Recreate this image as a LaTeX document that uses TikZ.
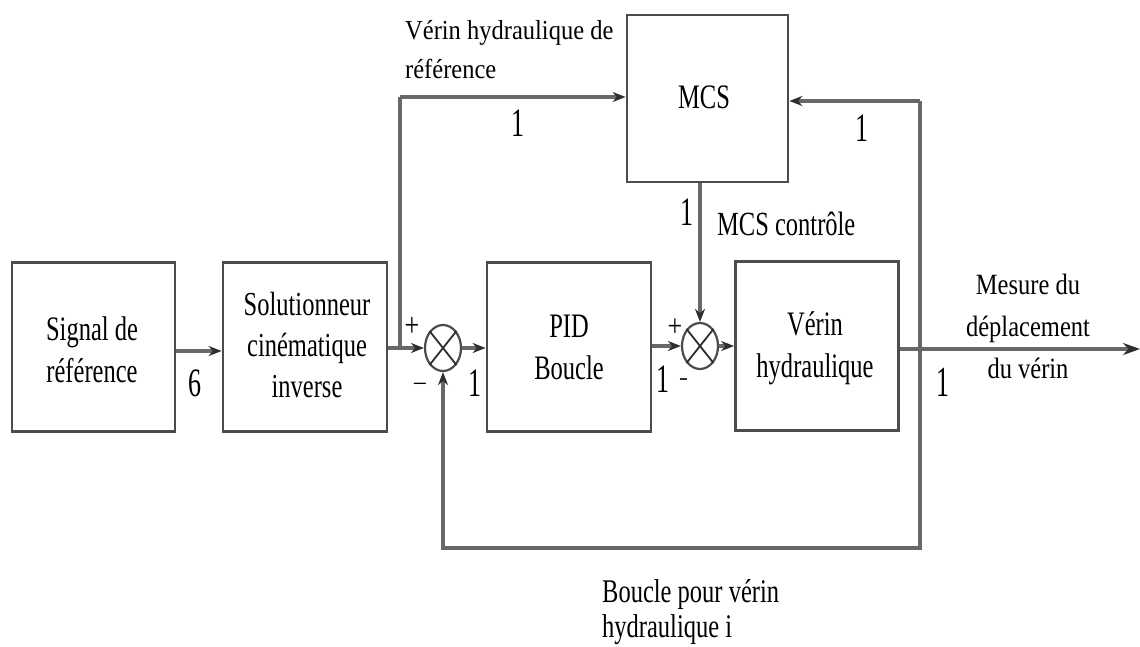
\documentclass[tikz,border=0pt]{standalone}
\usepackage{fontspec}
\setmainfont{Liberation Serif}
\usetikzlibrary{arrows.meta,shapes.geometric}
\newcommand\sx[3]{\scalebox{1}[#1]{\begin{tabular}[t]{@{}#2@{}}#3\end{tabular}}}
\definecolor{ln}{HTML}{686868}
\definecolor{bx}{HTML}{4C4C4C}
\definecolor{tp}{HTML}{2E2E2E}
\begin{document}
\begin{tikzpicture}[x=1pt,y=-1pt,
  blk/.style={draw=bx,line width=2.8pt,inner sep=0pt},
  txt/.style={font=\fontsize{24.5}{30}\selectfont,inner sep=0pt,anchor=base},
  lbl/.style={font=\fontsize{24.5}{35}\selectfont,inner sep=0pt,anchor=base},
  num/.style={font=\fontsize{26}{30}\selectfont,inner sep=0pt},
  sgn/.style={font=\fontsize{26}{30}\selectfont,inner sep=0pt},
  arr/.style={draw=ln,line width=3.3pt,-{Stealth[length=13pt,width=10pt,color=tp]}},
  ln/.style={draw=ln,line width=3.3pt},
  sum/.style={ellipse,draw=bx,line width=2.2pt,minimum width=36pt,minimum height=46pt,inner sep=0pt}]
\useasboundingbox (0,0) rectangle (1140,646);
% boxes
\node[blk,minimum width=163pt,minimum height=169pt] (sig) at (93.5,347) {};
\node[blk,minimum width=164pt,minimum height=169pt] (sol) at (305,347) {};
\node[blk,minimum width=164pt,minimum height=169pt] (pid) at (569,347) {};
\node[blk,minimum width=163pt,minimum height=169pt] (ver) at (817,346) {};
\node[blk,minimum width=161pt,minimum height=167pt] (mcs) at (707.5,98.5) {};
% box texts
\node[txt] (tsig) at (92,340) {\sx{1.4}{c}{Signal de\\référence}};
\node[txt] (tsol) at (307,315) {\sx{1.37}{c}{Solutionneur\\cinématique\\inverse}};
\node[txt] (tpid) at (569,337) {\sx{1.4}{c}{PID\\Boucle}};
\node[txt] (tver) at (815,335) {\sx{1.4}{c}{Vérin\\hydraulique}};
\node[txt] (tmcs) at (704,108) {\sx{1.4}{c}{MCS}};
% junctions
\node[sum] (s1) at (443,348) {};
\node[sum] (s2) at (700,346) {};
\draw[draw=tp,line width=1.8pt] (s1.north west) -- (s1.south east) (s1.north east) -- (s1.south west);
\draw[draw=tp,line width=1.8pt] (s2.north west) -- (s2.south east) (s2.north east) -- (s2.south west);
% coordinates
\coordinate (br1) at (400,348);
\coordinate (t1) at (400,97);
\coordinate (br2) at (920,349);
\coordinate (t2) at (920,101);
\coordinate (fb) at (920,548);
\coordinate (out) at (1140,349);
% connectors
\draw[arr] (sig.east |- 0,351) -- (sol.west |- 0,351);
\draw[arr] (sol.east |- br1) -- (s1.west);
\draw[ln] (br1) -- (t1);
\draw[arr] (t1) -- (t1 -| mcs.west);
\draw[arr] (s1.east) -- (pid.west |- s1);
\draw[arr] (pid.east |- s2) -- (s2.west);
\draw[arr] (s2.east) -- (ver.west |- s2);
\draw[arr] (s2 |- mcs.south) -- (s2.north);
\draw[draw=ln,line width=3.3pt,-{Stealth[length=17pt,width=12pt,color=tp]}] (ver.east |- br2) -- (out);
\draw[ln] (br2) -- (t2);
\draw[arr] (t2) -- (t2 -| mcs.east);
\draw[arr] (br2) -- (fb) -| (s1.south);
% labels
\node[lbl,anchor=base west] (lref) at (405,39) {\sx{1.12}{l}{Vérin hydraulique de\\référence}};
\node[lbl,anchor=base west] (lctl) at (717,235) {\sx{1.38}{l}{MCS contrôle}};
\node[lbl] (lmes) at (1028,294) {\sx{1.2}{c}{Mesure du\\déplacement\\du vérin}};
\node[lbl,anchor=base west,font=\fontsize{24.5}{26}\selectfont] (lbou) at (602,602) {\sx{1.35}{l}{Boucle pour vérin\\hydraulique i}};
% numbers
\node[num] (n6) at (195,383) {\scalebox{1}[1.55]{6}};
\node[num] (n1a) at (518,123) {\scalebox{1}[1.55]{1}};
\node[num] (n1b) at (862,128) {\scalebox{1}[1.55]{1}};
\node[num] (n1c) at (687,212) {\scalebox{1}[1.55]{1}};
\node[num] (n1d) at (475,383) {\scalebox{1}[1.55]{1}};
\node[num] (n1e) at (663,379) {\scalebox{1}[1.55]{1}};
\node[num] (n1f) at (943,382) {\scalebox{1}[1.65]{1}};
% signs
\node[sgn] (p1) at (412,327) {\scalebox{1}[1.3]{+}};
\node[sgn] (m1) at (420,388) {\textminus};
\node[sgn] (p2) at (675,328) {\scalebox{1}[1.2]{+}};
\node[inner sep=0pt,text=tp] (m2) at (683,379) {\rule{7pt}{2pt}};
\end{tikzpicture}
\end{document}
